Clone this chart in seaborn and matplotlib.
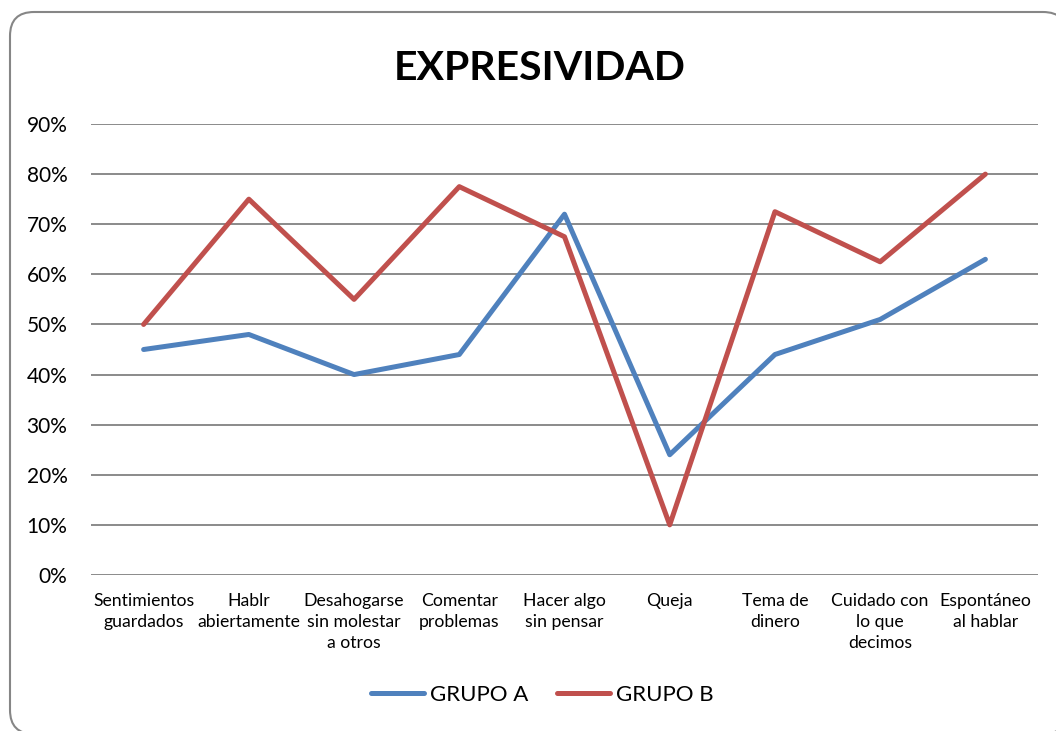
# Grafico de lineas: expresividad por grupo
import pandas as pd
import matplotlib.pyplot as plt
import seaborn as sns
from matplotlib.patches import FancyBboxPatch
from matplotlib.transforms import IdentityTransform
from matplotlib.ticker import PercentFormatter

# datos
categorias = ['Sentimientos\nguardados', 'Hablr\nabiertamente', 'Desahogarse\nsin molestar\na otros',
              'Comentar\nproblemas', 'Hacer algo\nsin pensar', 'Queja', 'Tema de\ndinero',
              'Cuidado con\nlo que\ndecimos', 'Espontáneo\nal hablar']
grupo_a = [0.45, 0.48, 0.40, 0.44, 0.72, 0.24, 0.44, 0.51, 0.63]
grupo_b = [0.50, 0.75, 0.55, 0.775, 0.675, 0.10, 0.725, 0.625, 0.80]
grupos = ['GRUPO A', 'GRUPO B']
colores = ['#4F81BD', '#C0504D']
yticks = [0, 0.1, 0.2, 0.3, 0.4, 0.5, 0.6, 0.7, 0.8, 0.9]

df = pd.DataFrame({
    'categoria': categorias * 2,
    'valor': grupo_a + grupo_b,
    'grupo': [grupos[0]] * len(categorias) + [grupos[1]] * len(categorias),
})

sns.set_style('white')
plt.rcParams['font.family'] = ['Lato', 'DejaVu Sans']
plt.rcParams['text.color'] = 'black'
plt.rcParams['xtick.color'] = 'black'
plt.rcParams['ytick.color'] = 'black'

W, H = 1056, 731
fig = plt.figure(figsize=(W / 100, H / 100), dpi=100)

# marco redondeado (en pixeles), se sale por la derecha y por abajo
# relleno blanco para que agg no recorte el trazo en el borde del lienzo
marco = FancyBboxPatch((10, -3), 1067 - 10, H - 12 + 3,
                       boxstyle='round,pad=0,rounding_size=24',
                       transform=IdentityTransform(), facecolor='white',
                       edgecolor='#868686', linewidth=1.5, zorder=-1)
fig.patches.append(marco)

ax = fig.add_axes([91 / W, (H - 575) / H, (1038 - 91) / W, (575 - 124) / H])
ax.patch.set_alpha(0)

sns.lineplot(data=df, x='categoria', y='valor', hue='grupo', palette=colores,
             linewidth=3.6, sort=False, ax=ax, legend=False, zorder=3)

ax.set_xlim(-0.5, len(categorias) - 0.5)
ax.set_ylim(0, 0.9)
ax.set_yticks(yticks)
ax.yaxis.set_major_formatter(PercentFormatter(1.0, decimals=0))
ax.grid(axis='y', color='#8A8A8A', linewidth=1.4)
ax.grid(axis='x', visible=False)
for s in ax.spines.values():
    s.set_visible(False)
ax.tick_params(axis='y', labelsize=15, length=0, pad=17)
ax.tick_params(axis='x', labelsize=12.7, length=0, pad=13)
for lab in ax.get_xticklabels():
    lab.set_linespacing(1.4)
ax.set_xlabel('')
ax.set_ylabel('')

fig.text(540 / W, 1 - 68 / H, 'EXPRESIVIDAD', ha='center', va='center',
         fontsize=29.5, fontweight='bold')

# leyenda abajo
handles = [plt.Line2D([], [], color=c, linewidth=3.6, solid_capstyle='round') for c in colores]
fig.legend(handles, grupos, loc='center', bbox_to_anchor=(542 / W, 1 - 695 / H),
           ncol=2, frameon=False, fontsize=16, handlelength=2.4, handletextpad=0.25,
           columnspacing=1.3)

fig.savefig('out.png', dpi=100)
